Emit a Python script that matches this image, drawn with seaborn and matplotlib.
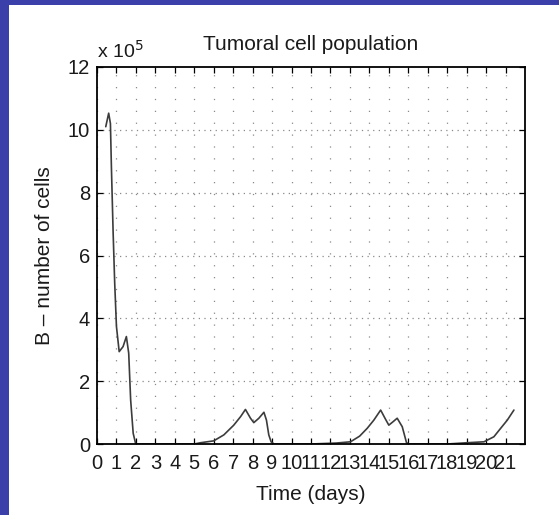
import matplotlib
matplotlib.use("Agg")
import matplotlib.pyplot as plt
import seaborn as sns
import pandas as pd
from matplotlib.patches import Rectangle

# ---- data (B in units of 1e5 cells) ----
days = [0.45, 0.6, 0.69, 0.74, 0.83, 0.91, 1.0, 1.14, 1.34, 1.51, 1.63, 1.73, 1.86, 1.99,
        3.0, 4.0, 5.0, 5.32, 6.0, 6.52, 7.03, 7.38, 7.63, 7.89, 8.06, 8.32, 8.58, 8.71, 8.83, 8.95, 9.1,
        10.0, 11.0, 12.3, 13.03, 13.5, 13.89, 14.23, 14.58, 14.82, 15.0, 15.2, 15.43, 15.69, 15.91, 16.05,
        17.0, 18.0, 19.03, 19.89, 20.4, 20.75, 21.09, 21.43]
cells = [10.1, 10.53, 10.2, 8.83, 6.71, 5.12, 3.74, 2.94, 3.1, 3.42, 2.89, 1.4, 0.34, 0.0,
         0.0, 0.0, 0.0, 0.04, 0.1, 0.29, 0.6, 0.87, 1.1, 0.82, 0.68, 0.82, 1.01, 0.76, 0.29, 0.07, 0.0,
         0.0, 0.0, 0.03, 0.07, 0.25, 0.5, 0.76, 1.08, 0.8, 0.6, 0.7, 0.82, 0.55, 0.04, 0.0,
         0.0, 0.0, 0.04, 0.07, 0.23, 0.5, 0.76, 1.08]
x_ticks = list(range(0, 22))
y_ticks = [0, 2, 4, 6, 8, 10, 12]

title = "Tumoral cell population"
xlabel = "Time (days)"
ylabel = "B \u2013 number of cells"

df = pd.DataFrame({"t": days, "B": cells})

sns.set_theme(style="white")
plt.rcParams['font.family'] = ['Liberation Sans', 'DejaVu Sans']

fig = plt.figure(figsize=(5.59, 5.15), dpi=100)
fig.patch.set_facecolor("white")
# blue frame strips (left and top)
fig.patches.append(Rectangle((0, 0), 9 / 559, 1, transform=fig.transFigure,
                             facecolor="#3b3fa9", edgecolor="none", zorder=0))
fig.patches.append(Rectangle((0, 1 - 5 / 515), 1, 5 / 515, transform=fig.transFigure,
                             facecolor="#3b3fa9", edgecolor="none", zorder=0))

ax = fig.add_axes([97 / 559, 1 - 444 / 515, (525 - 97) / 559, (444 - 67) / 515])
sns.lineplot(data=df, x="t", y="B", ax=ax, sort=False, estimator=None,
             color="#3c3c3c", linewidth=1.2)

ax.set_xlim(0, 22)
ax.set_ylim(0, 12)
ax.set_xticks(x_ticks)
ax.set_yticks(y_ticks)
ax.set_xticklabels([str(v) for v in x_ticks], fontsize=14.5)
ax.set_yticklabels([str(v) for v in y_ticks], fontsize=14.5)

# MATLAB-style dotted grid
for xv in x_ticks:
    ax.axvline(xv, color="#8a8a8a", linewidth=0.9, linestyle=(0, (1, 8.5)), zorder=0)
for yv in y_ticks[1:-1]:
    ax.axhline(yv, color="#8a8a8a", linewidth=0.9, linestyle=(0, (1, 3.5)), zorder=0)

for s in ax.spines.values():
    s.set_visible(True)
    s.set_color("black")
    s.set_linewidth(1.3)

ax.tick_params(direction="in", length=4, width=0.9, top=True, right=True,
               bottom=True, left=True, colors="black", labelcolor="#1a1a1a",
               pad=5)
ax.tick_params(axis="x", pad=7)

ax.set_title(title, fontsize=15, color="#1a1a1a", pad=12)
ax.set_xlabel(xlabel, fontsize=15, color="#1a1a1a", labelpad=9)
ax.set_ylabel(ylabel, fontsize=15, color="#1a1a1a", labelpad=10)

ax.text(0.0, 1.015, r"x 10$^5$", transform=ax.transAxes, fontsize=14,
        color="#1a1a1a", ha="left", va="bottom")

fig.savefig("out.png", dpi=100, facecolor="white")
